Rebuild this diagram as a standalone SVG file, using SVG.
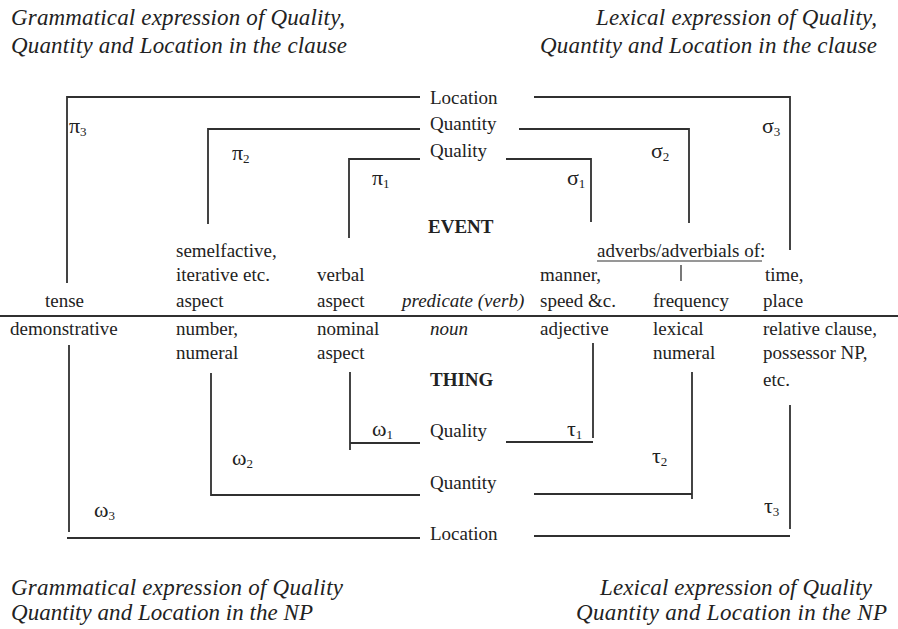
<svg xmlns="http://www.w3.org/2000/svg" width="898" height="629" viewBox="0 0 898 629">
<style>
text{font-family:"Liberation Serif","Times New Roman",serif;fill:#222222;font-size:19px}
.title{font-style:italic;font-size:23px}
.it{font-style:italic}
.b{font-weight:bold}
.gk{font-size:22px}
.sub{font-size:13px}
.ln{stroke:#303030;stroke-width:1.8;fill:none}
</style>
<rect width="898" height="629" fill="#ffffff"/>

<g id="titles">
<g id="title-tl"><text class="title" x="11" y="25" textLength="334">Grammatical expression of Quality,</text><text class="title" x="11" y="53" textLength="336">Quantity and Location in the clause</text></g>
<g id="title-tr"><text class="title" x="596" y="25" textLength="281">Lexical expression of Quality,</text><text class="title" x="540" y="53" textLength="337">Quantity and Location in the clause</text></g>
<g id="title-bl"><text class="title" x="11" y="595" textLength="332">Grammatical expression of Quality</text><text class="title" x="11" y="620" textLength="302">Quantity and Location in the NP</text></g>
<g id="title-br"><text class="title" x="600" y="595" textLength="272">Lexical expression of Quality</text><text class="title" x="576" y="620" textLength="311">Quantity and Location in the NP</text></g>
</g>

<g id="connectors">
<line class="ln" x1="0" y1="316" x2="898" y2="316"/>
<polyline class="ln" points="420,97 67,97 67,283"/>
<polyline class="ln" points="534,97 790,97 790,250"/>
<polyline class="ln" points="420,129 208,129 208,224"/>
<polyline class="ln" points="519,129 689,129 689,223"/>
<polyline class="ln" points="420,159 349,159 349,238"/>
<polyline class="ln" points="506,159 591,159 591,222"/>
<polyline class="ln" points="69,345 69,532"/>
<polyline class="ln" points="67,538 420,538"/>
<polyline class="ln" points="534,536 790,536"/>
<polyline class="ln" points="790,405 790,529"/>
<polyline class="ln" points="211,373 211,495 420,495"/>
<polyline class="ln" points="534,494 692,494"/>
<polyline class="ln" points="692,372 692,499"/>
<polyline class="ln" points="350,372 350,450"/>
<polyline class="ln" points="350,443 420,443"/>
<polyline class="ln" points="506,442 593,442"/>
<polyline class="ln" points="593,343 593,438"/>
<line class="ln" x1="597" y1="261" x2="762" y2="261" style="stroke-width:1.2"/>
<line class="ln" x1="681" y1="265" x2="681" y2="281" style="stroke-width:1.3"/>
</g>

<g id="center-clause">
<g id="loc-top"><text x="430" y="104">Location</text></g>
<g id="quant-top"><text x="430" y="130">Quantity</text></g>
<g id="qual-top"><text x="430" y="157">Quality</text></g>
<g id="event"><text class="b" x="428" y="233">EVENT</text></g>
</g>

<g id="greek">
<g id="pi3"><text class="gk" x="69" y="133">π<tspan class="sub" dy="3">3</tspan></text></g>
<g id="pi2"><text class="gk" x="232" y="160">π<tspan class="sub" dy="3">2</tspan></text></g>
<g id="pi1"><text class="gk" x="372" y="185">π<tspan class="sub" dy="3">1</tspan></text></g>
<g id="sigma3"><text class="gk" x="762" y="133">σ<tspan class="sub" dy="3">3</tspan></text></g>
<g id="sigma2"><text class="gk" x="651" y="158">σ<tspan class="sub" dy="3">2</tspan></text></g>
<g id="sigma1"><text class="gk" x="567" y="185">σ<tspan class="sub" dy="3">1</tspan></text></g>
<g id="omega1"><text class="gk" x="372" y="436">ω<tspan class="sub" dy="3">1</tspan></text></g>
<g id="tau1"><text class="gk" x="567" y="436">τ<tspan class="sub" dy="3">1</tspan></text></g>
<g id="omega2"><text class="gk" x="232" y="465">ω<tspan class="sub" dy="3">2</tspan></text></g>
<g id="tau2"><text class="gk" x="652" y="463">τ<tspan class="sub" dy="3">2</tspan></text></g>
<g id="omega3"><text class="gk" x="94" y="517">ω<tspan class="sub" dy="3">3</tspan></text></g>
<g id="tau3"><text class="gk" x="764" y="513">τ<tspan class="sub" dy="3">3</tspan></text></g>
</g>

<g id="clause-row">
<g id="tense"><text x="45" y="307">tense</text></g>
<g id="semelfactive"><text x="176" y="257">semelfactive,</text><text x="176" y="281">iterative etc.</text><text x="176" y="307">aspect</text></g>
<g id="verbal-aspect"><text x="317" y="281">verbal</text><text x="317" y="307">aspect</text></g>
<g id="predicate"><text class="it" x="402" y="307">predicate (verb)</text></g>
<g id="adverbs"><text x="597" y="257">adverbs/adverbials of:</text></g>
<g id="manner"><text x="540" y="281">manner,</text><text x="540" y="307">speed &amp;c.</text></g>
<g id="frequency"><text x="653" y="307">frequency</text></g>
<g id="time-place"><text x="765" y="281">time,</text><text x="763" y="307">place</text></g>
</g>

<g id="np-row">
<g id="demonstrative"><text x="10" y="335">demonstrative</text></g>
<g id="number"><text x="176" y="335">number,</text><text x="176" y="359">numeral</text></g>
<g id="nominal-aspect"><text x="317" y="335">nominal</text><text x="317" y="359">aspect</text></g>
<g id="noun"><text class="it" x="430" y="335">noun</text></g>
<g id="adjective"><text x="540" y="335">adjective</text></g>
<g id="lexical-numeral"><text x="653" y="335">lexical</text><text x="653" y="359">numeral</text></g>
<g id="relative"><text x="763" y="335">relative clause,</text><text x="763" y="359">possessor NP,</text><text x="763" y="386">etc.</text></g>
</g>

<g id="center-np">
<g id="thing"><text class="b" x="430" y="386">THING</text></g>
<g id="qual-bot"><text x="430" y="437">Quality</text></g>
<g id="quant-bot"><text x="430" y="489">Quantity</text></g>
<g id="loc-bot"><text x="430" y="540">Location</text></g>
</g>
</svg>
